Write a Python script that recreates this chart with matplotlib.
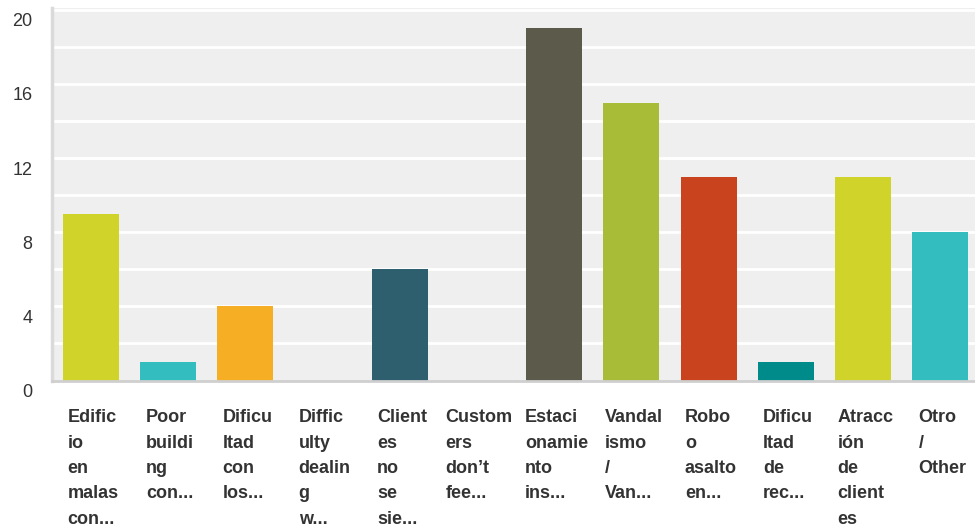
import numpy as np
import matplotlib
matplotlib.use('Agg')
import matplotlib.pyplot as plt
import matplotlib.transforms as mtransforms

# Data
labels = ['Edific\nio\nen\nmalas\ncon...', 'Poor\nbuildi\nng\ncon...', 'Dificu\nltad\ncon\nlos...',
          'Diffic\nulty\ndealin\ng\nw...', 'Client\nes\nno\nse\nsie...', 'Custom\ners\ndon\u2019t\nfee...',
          'Estaci\nonamie\nnto\nins...', 'Vandal\nismo\n/\nVan...', 'Robo\no\nasalto\nen...',
          'Dificu\nltad\nde\nrec...', 'Atracc\ni\u00f3n\nde\nclient\nes', 'Otro\n/\nOther']
counts = [9, 1, 4, 0, 6, 0, 19, 15, 11, 1, 11, 8]
colors = ['#d0d32a', '#33bdbe', '#f6ae25', '#7f7f7f', '#2d5f6e', '#7f7f7f',
          '#5c5a4a', '#a8bc38', '#c9441e', '#008b8b', '#d0d32a', '#33bdbe']
yticks = [0, 4, 8, 12, 16, 20]

plt.rcParams['font.family'] = ['Liberation Sans', 'DejaVu Sans']

W, H = 975, 528
fig = plt.figure(figsize=(W / 100, H / 100), dpi=100)
ax = fig.add_axes([52 / W, 1 - 380.5 / H, (979 - 52) / W, (380.5 - 8) / H])
ax.set_facecolor('#efefef')

x = np.arange(len(counts))
ax.bar(x, counts, width=0.725, color=colors, zorder=3)

ax.set_xlim(-0.5, len(counts) - 0.5)
ax.set_ylim(0, 20.1)

# gridlines every 2
for g in range(2, 21, 2):
    ax.axhline(g, color='white', lw=2, zorder=1)

for s in ['top', 'right']:
    ax.spines[s].set_visible(False)
ax.spines['left'].set_color('#dadada')
ax.spines['left'].set_linewidth(2.5)
ax.spines['bottom'].set_color('#cfcfcf')
ax.spines['bottom'].set_linewidth(2)
ax.spines['bottom'].set_zorder(4)

ax.set_yticks(yticks)
ax.set_yticklabels([str(v) for v in yticks], fontsize=13, color='#333333')
ax.tick_params(axis='y', length=0, pad=14)
off = mtransforms.ScaledTranslation(0, -10 / 100, fig.dpi_scale_trans)
for lab in ax.get_yticklabels():
    lab.set_transform(lab.get_transform() + off)

ax.set_xticks([])
for i, lab in enumerate(labels):
    ax.text(i + 0.03, -0.0775, lab, transform=ax.get_xaxis_transform(),
            ha='center', va='top', multialignment='left',
            fontsize=13, fontweight='bold', color='#333333', linespacing=1.64)

fig.savefig('out.png', dpi=100)
